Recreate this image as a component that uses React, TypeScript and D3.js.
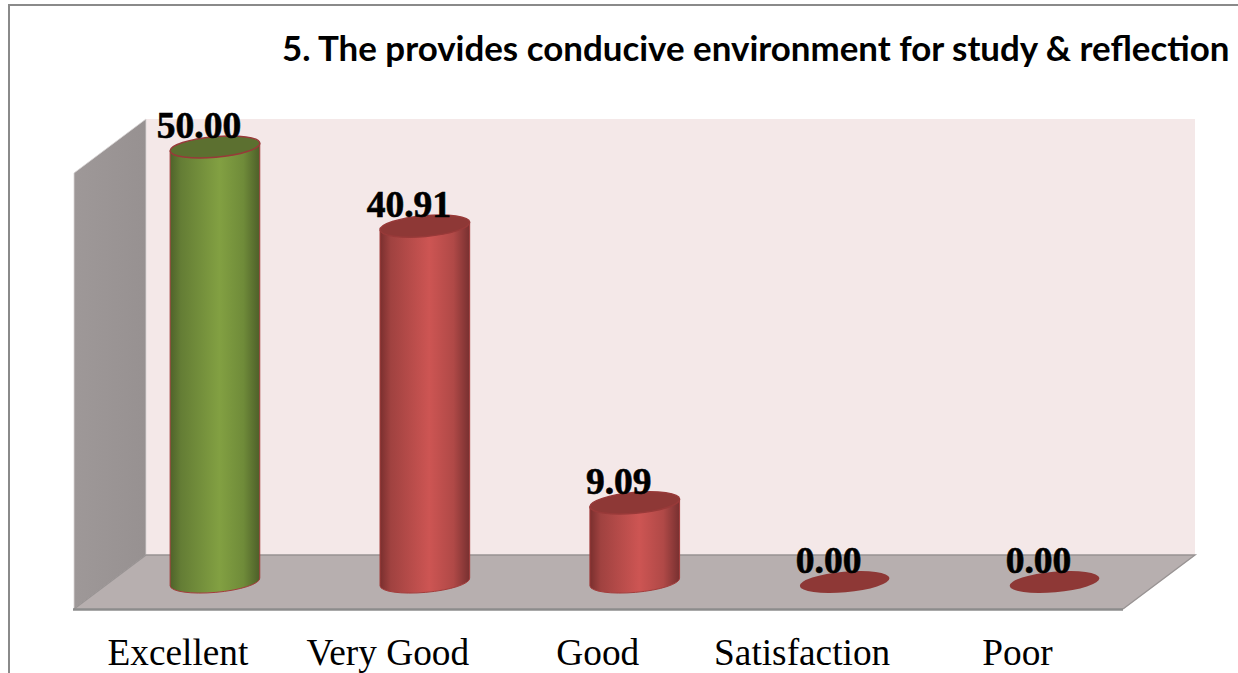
import React from "react";
import * as d3 from "d3";

const categories = ["Excellent", "Very Good", "Good", "Satisfaction", "Poor"];
const values = [50.0, 40.91, 9.09, 0.0, 0.0];
const valueLabels = ["50.00", "40.91", "9.09", "0.00", "0.00"];
const highlighted = ["Excellent"];
const chartTitle = "5. The provides conducive environment for study & reflection";

const W = 1238;
const H = 673;
const wall = { x0: 146, x1: 1195, top: 119, floor: 555 };
const depth = { dx: 72, dy: 54 };

const x = d3.scaleBand<string>().domain(categories).range([110, 1159.5]).padding(0);
const y = d3.scaleLinear().domain([0, 50]).range([582, 147]);

const RX = 45;
const RY = 10.4;
const TILT = 5;
const t = (TILT * Math.PI) / 180;
const ex = RX * Math.cos(t);
const ey = RX * Math.sin(t);

const poly = d3.line<[number, number]>().curve(d3.curveLinearClosed);

export default function App() {
  const xf = wall.x0 - depth.dx;
  const yf = wall.floor + depth.dy;
  return (
    <svg
      width={W}
      height={H}
      viewBox={`0 0 ${W} ${H}`}
      style={{ position: "absolute", left: 0, top: 0, background: "#fff" }}
    >
      <defs>
        <linearGradient id="green" x1="0" x2="1" y1="0" y2="0">
          <stop offset="0" stopColor="#4f632a" />
          <stop offset="0.12" stopColor="#647d35" />
          <stop offset="0.55" stopColor="#82a042" />
          <stop offset="0.82" stopColor="#6f8b39" />
          <stop offset="1" stopColor="#4d5f29" />
        </linearGradient>
        <linearGradient id="red" x1="0" x2="1" y1="0" y2="0">
          <stop offset="0" stopColor="#7a2f2e" />
          <stop offset="0.12" stopColor="#a04240" />
          <stop offset="0.55" stopColor="#cd5553" />
          <stop offset="0.82" stopColor="#b04947" />
          <stop offset="1" stopColor="#773030" />
        </linearGradient>
        <linearGradient id="side" x1="0" x2="1" y1="0" y2="0">
          <stop offset="0" stopColor="#9e9898" />
          <stop offset="1" stopColor="#979191" />
        </linearGradient>
      </defs>

      {/* outer frame */}
      <path d={`M9,${H} L9,5 L${W},5`} fill="none" stroke="#8a8a8a" strokeWidth={2} />

      {/* walls and floor */}
      <rect x={wall.x0} y={wall.top} width={wall.x1 - wall.x0} height={wall.floor - wall.top} fill="#f4e8e8" />
      <path
        d={poly([[xf, wall.top + depth.dy], [wall.x0, wall.top], [wall.x0, wall.floor], [xf, yf]])!}
        fill="url(#side)"
        stroke="#d9d5d5"
        strokeWidth={0.8}
      />
      <path
        d={poly([[wall.x0, wall.floor], [wall.x1, wall.floor], [wall.x1 - depth.dx, yf], [xf, yf]])!}
        fill="#b7afaf"
      />
      <path
        d={`M${xf},${yf} L${wall.x0},${wall.floor} L${wall.x1},${wall.floor} L${wall.x1 - depth.dx},${yf}`}
        fill="none"
        stroke="#989393"
        strokeWidth={1.4}
      />
      <line x1={xf - 1} x2={wall.x1 - depth.dx} y1={yf + 0.5} y2={yf + 0.5} stroke="#8c8c8c" strokeWidth={2.4} />

      {/* cylinders */}
      {categories.map((c, i) => {
        const cx = x(c)! + x.bandwidth() / 2;
        const top = y(values[i]);
        const base = y(0);
        const green = highlighted.includes(c);
        const rot = `rotate(${-TILT} ${cx} ${top})`;
        const capFill = green ? "#5c7030" : "#8e3836";
        if (values[i] === 0) {
          return <ellipse key={c} cx={cx} cy={top} rx={RX} ry={RY} fill={capFill} transform={rot} />;
        }
        const body = `M${cx - ex},${top + ey} L${cx - ex},${base + ey} A${RX},${RY} ${-TILT} 0 0 ${cx + ex},${base - ey} L${cx + ex},${top - ey} Z`;
        return (
          <g key={c}>
            <path d={body} fill={`url(#${green ? "green" : "red"})`} stroke="#a33c3b" strokeWidth={1} />
            <ellipse cx={cx} cy={top} rx={RX} ry={RY} fill={capFill} stroke="#983a39" strokeWidth={1.5} transform={rot} />
          </g>
        );
      })}

      {/* value labels */}
      {categories.map((c, i) => (
        <text
          key={c}
          x={x(c)! + x.bandwidth() / 2 - 16}
          y={y(values[i]) - 9}
          textAnchor="middle"
          fontFamily="'Liberation Serif', serif"
          fontWeight={700}
          fontSize={37.5}
          fill="#000"
          stroke="#000"
          strokeWidth={0.6}
        >
          {valueLabels[i]}
        </text>
      ))}

      {/* category labels */}
      {categories.map((c) => (
        <text
          key={c}
          x={x(c)! + x.bandwidth() / 2 - (c === "Satisfaction" ? 42.5 : 37)}
          y={665}
          textAnchor="middle"
          fontFamily="'Liberation Serif', serif"
          fontSize={37.3}
          fill="#000"
        >
          {c}
        </text>
      ))}

      <text
        x={282}
        y={61}
        fontFamily="Lato, sans-serif"
        fontWeight={700}
        fontSize={34.9}
        fill="#000"
      >
        {chartTitle}
      </text>
    </svg>
  );
}
